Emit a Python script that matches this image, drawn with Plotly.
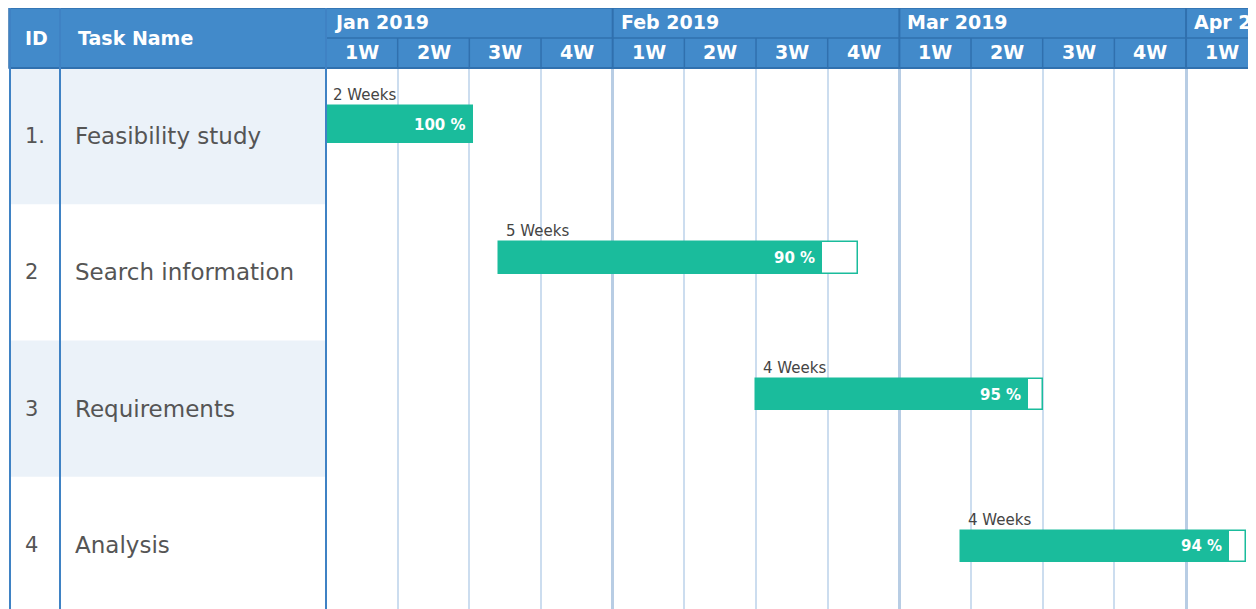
import plotly.graph_objects as go

# ---------------- data ----------------
task_ids = ["1.", "2", "3", "4"]
task_names = ["Feasibility study", "Search information", "Requirements", "Analysis"]
start_week = [0.0, 2.42, 6.0, 8.86]          # weeks from 1 Jan 2019
duration_week = [2.05, 5.0, 4.0, 3.98]
duration_labels = ["2 Weeks", "5 Weeks", "4 Weeks", "4 Weeks"]
progress_pct = [100, 90, 95, 94]
month_labels = ["Jan 2019", "Feb 2019", "Mar 2019", "Apr 2019"]
weeks_per_month = [4, 4, 4, 1]
week_labels = ["1W", "2W", "3W", "4W", "1W", "2W", "3W", "4W", "1W", "2W", "3W", "4W", "1W"]

# ---------------- layout constants (page pixels) ----------------
PAGE_W, PAGE_H = 1256, 609
BODY_OFF = 8                      # browser body margin
W, H = PAGE_W - BODY_OFF, PAGE_H - BODY_OFF
HEADER_TOP, HEADER_MID, HEADER_BOT = 8, 38, 68
TABLE_L, COL_ID_R, TIMELINE_L = 9, 60, 326
WEEK_PX = 71.67
ROW_PX = 136.25
bar_center_in_row = [0.416, 0.397, 0.398, 0.510]
bar_thickness = [0.272, 0.235, 0.23, 0.23]

TEAL = "#1ABC9C"
HEADER_BLUE = "#428ACA"
HEADER_LINE = "#3070AE"
TABLE_LINE = "#3F82C4"
ROW_ALT = "#EBF2F9"
WEEK_GRID = "#CCDDEF"
MONTH_GRID = "#B8CDE4"
TEXT_GREY = "#555555"
FONT = "DejaVu Sans"


def px(x):
    return (x - BODY_OFF) / W


def py(y_from_top):
    return 1 - (y_from_top - BODY_OFF) / H


fig = go.Figure()

ys = [i + c for i, c in enumerate(bar_center_in_row)]
done = [d * p / 100 for d, p in zip(duration_week, progress_pct)]

# outline (full duration)
fig.add_trace(go.Bar(
    orientation="h", y=ys, x=duration_week, base=start_week, width=bar_thickness,
    marker=dict(color="white", line=dict(color=TEAL, width=1.5)),
    hoverinfo="skip", showlegend=False,
))
# progress fill
fig.add_trace(go.Bar(
    orientation="h", y=ys, x=done, base=start_week, width=bar_thickness,
    marker=dict(color=TEAL, line=dict(color=TEAL, width=1)),
    hoverinfo="skip", showlegend=False,
))

shapes = []
annotations = []

# alternating row backgrounds in the table part
for i in range(len(task_names)):
    if i % 2 == 0:
        shapes.append(dict(type="rect", xref="paper", yref="y",
                           x0=px(TABLE_L), x1=px(TIMELINE_L), y0=i, y1=i + 1,
                           fillcolor=ROW_ALT, line=dict(width=0), layer="below"))
    annotations.append(dict(xref="paper", yref="y", x=px(23), y=i + 0.5,
                            text=task_ids[i], showarrow=False, xanchor="left", yanchor="middle",
                            font=dict(family=FONT, size=21, color=TEXT_GREY)))
    annotations.append(dict(xref="paper", yref="y", x=px(73), y=i + 0.5,
                            text=task_names[i], showarrow=False, xanchor="left", yanchor="middle",
                            font=dict(family=FONT, size=23, color=TEXT_GREY)))
    # duration label above bar
    top = ys[i] - bar_thickness[i] / 2
    annotations.append(dict(xref="x", yref="y", x=start_week[i], y=top,
                            text=duration_labels[i], showarrow=False, xanchor="left", yanchor="middle",
                            xshift=5, yshift=11,
                            font=dict(family=FONT, size=15, color="#444444")))
    # percentage text inside the fill
    annotations.append(dict(xref="x", yref="y", x=start_week[i] + done[i], y=ys[i],
                            text=f"{progress_pct[i]} %", showarrow=False, xanchor="right", yanchor="middle",
                            xshift=-5,
                            font=dict(family=FONT, size=15, color="white", weight="bold")))

# header background
shapes.append(dict(type="rect", xref="paper", yref="paper",
                   x0=px(TABLE_L), x1=1.01, y0=py(HEADER_BOT), y1=py(HEADER_TOP),
                   fillcolor=HEADER_BLUE, line=dict(color=HEADER_LINE, width=1.5)))
# header horizontal divider (months / weeks)
shapes.append(dict(type="line", xref="paper", yref="paper",
                   x0=px(TIMELINE_L), x1=1.01, y0=py(HEADER_MID), y1=py(HEADER_MID),
                   line=dict(color=HEADER_LINE, width=1.5)))
shapes.append(dict(type="line", xref="paper", yref="paper",
                   x0=px(TABLE_L), x1=1.01, y0=py(HEADER_BOT), y1=py(HEADER_BOT),
                   line=dict(color=HEADER_LINE, width=2)))

# month and week separators / labels in the header
wk = 0
for m, n in zip(month_labels, weeks_per_month):
    if wk > 0:
        shapes.append(dict(type="line", xref="x", yref="paper", x0=wk, x1=wk,
                           y0=py(HEADER_BOT), y1=py(HEADER_TOP),
                           line=dict(color=HEADER_LINE, width=2)))
    annotations.append(dict(xref="x", yref="paper", x=wk, y=py(22), text=m, showarrow=False,
                            xanchor="left", yanchor="middle", xshift=6,
                            font=dict(family=FONT, size=19, color="white", weight="bold")))
    wk += n
for k, lab in enumerate(week_labels):
    if k > 0 and k % 4 != 0:
        shapes.append(dict(type="line", xref="x", yref="paper", x0=k, x1=k,
                           y0=py(HEADER_BOT), y1=py(HEADER_MID),
                           line=dict(color=HEADER_LINE, width=1.5)))
    annotations.append(dict(xref="x", yref="paper", x=k + 0.5, y=py(52), text=lab, showarrow=False,
                            xanchor="center", yanchor="middle",
                            font=dict(family=FONT, size=19, color="white", weight="bold")))

# header texts for table columns
annotations.append(dict(xref="paper", yref="paper", x=px(23), y=py(38), text="ID", showarrow=False,
                        xanchor="left", yanchor="middle",
                        font=dict(family=FONT, size=19, color="white", weight="bold")))
annotations.append(dict(xref="paper", yref="paper", x=px(76), y=py(38), text="Task Name", showarrow=False,
                        xanchor="left", yanchor="middle",
                        font=dict(family=FONT, size=19, color="white", weight="bold")))

# table vertical borders
for xv in (TABLE_L + 1, COL_ID_R, TIMELINE_L):
    shapes.append(dict(type="line", xref="paper", yref="paper", x0=px(xv), x1=px(xv),
                       y0=0, y1=py(HEADER_TOP), line=dict(color=TABLE_LINE, width=2)))

n_weeks = len(week_labels)
month_bounds = []
acc = 0
for n in weeks_per_month[:-1]:
    acc += n
    month_bounds.append(acc)
week_bounds = [k for k in range(1, n_weeks) if k not in month_bounds]

fig.update_layout(
    width=W, height=H,
    margin=dict(l=0, r=0, t=0, b=0),
    paper_bgcolor="white", plot_bgcolor="white",
    barmode="overlay", bargap=0,
    shapes=shapes, annotations=annotations,
    xaxis=dict(domain=[px(TIMELINE_L), 1], range=[0, (PAGE_W - TIMELINE_L) / WEEK_PX],
               showticklabels=False, ticks="", zeroline=False, showline=False,
               tickmode="array", tickvals=month_bounds, showgrid=True,
               gridcolor=MONTH_GRID, gridwidth=3,
               minor=dict(tickmode="array", tickvals=week_bounds, showgrid=True,
                          gridcolor=WEEK_GRID, gridwidth=2)),
    yaxis=dict(domain=[0, py(HEADER_BOT)], range=[(PAGE_H - HEADER_BOT) / ROW_PX, 0],
               showticklabels=False, ticks="", zeroline=False, showline=False, showgrid=False),
    hovermode=False,
)

fig.write_html("out.html")
